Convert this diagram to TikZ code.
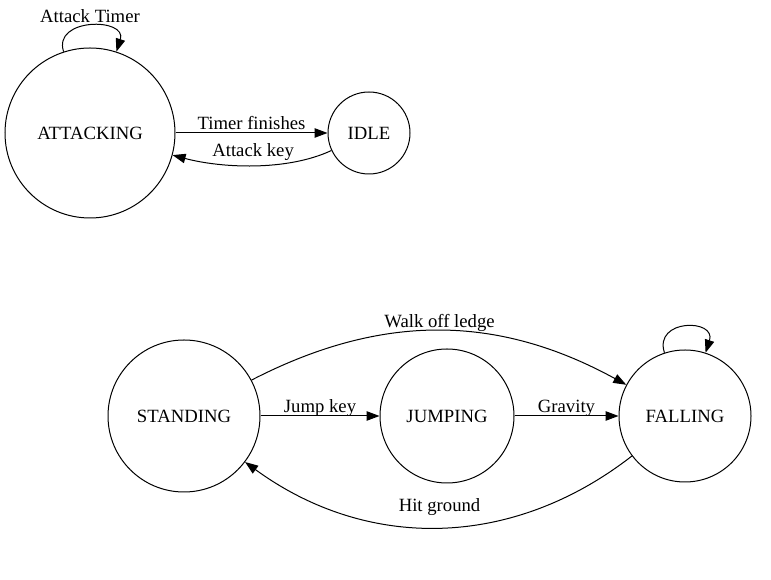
\documentclass[tikz,border=0pt]{standalone}
\usepackage{fontspec}
\setmainfont{Liberation Serif}
\usetikzlibrary{arrows.meta}

\begin{document}
\begin{tikzpicture}[
              x=1pt,y=1pt,
              font=\rmfamily\fontsize{18.7}{22}\selectfont,
              state/.style={
                  draw,
                  circle,
                  inner sep=0pt,
                  line width=1pt,
                },
              lbl/.style={inner sep=1pt,text height=0.7em,text depth=0.22em},
              >={Triangle[length=13pt,width=9.5pt]}
            ]
            \useasboundingbox (0,0) rectangle (771,580);
            \node[state,minimum size=170pt] (attacking) at (90,447) {ATTACKING};
            \node[state,minimum size=82pt] (idle) at (369,447) {IDLE};
            \node[state,minimum size=152pt] (standing) at (184,164) {STANDING};
            \node[state,minimum size=134pt] (jumping) at (447,164) {JUMPING};
            \node[state,minimum size=132pt] (falling) at (685,164) {FALLING};
            \path[->,line width=1pt]
            (attacking) edge node[above,lbl] {Timer finishes} (idle)
            (idle) edge[out=205,in=-15,looseness=0.8] node[above=5pt,lbl] {Attack key} (attacking)
            (attacking) edge[out=108,in=72,min distance=36pt] node[above,lbl] {Attack Timer} (attacking)
            (standing) edge node[above,lbl] {Jump key} (jumping)
            (jumping) edge node[above,lbl] {Gravity} (falling)
            (standing) edge[bend left=28] node[above,lbl] {Walk off ledge} (falling)
            (falling) edge[bend left=37] node[above=12pt,lbl] {Hit ground} (standing)
            (falling) edge[out=108,in=72,min distance=36pt] (falling)
            ;
          \end{tikzpicture}
\end{document}
